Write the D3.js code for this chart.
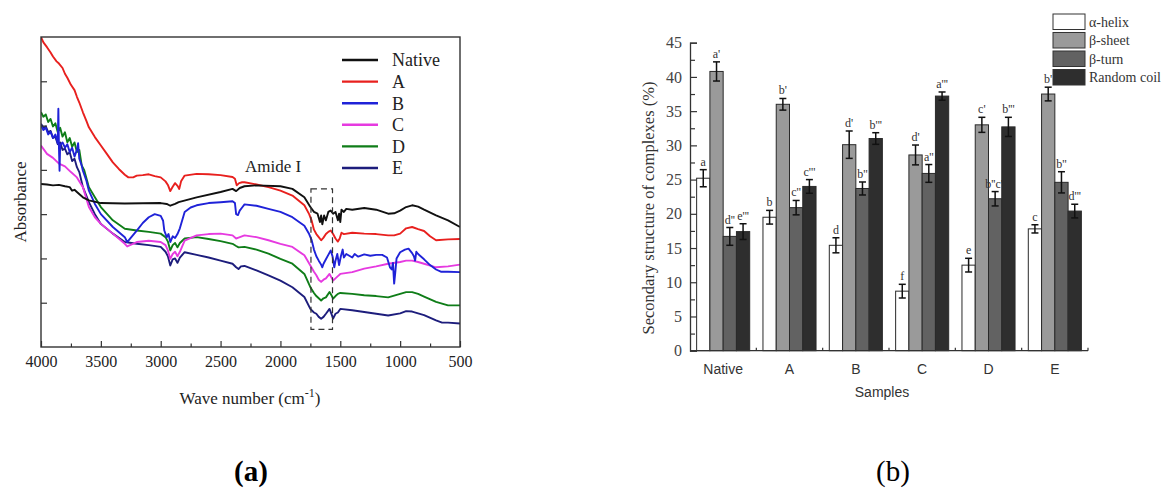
<!DOCTYPE html>
<html><head><meta charset="utf-8">
<script src="https://cdn.jsdelivr.net/npm/d3@7"></script>
<style>body{margin:0;background:#fff}svg{display:block}</style>
</head><body><svg id="c" width="1162" height="492"></svg>
<script>
// ---------- Panel (a) data: FTIR spectra [wave number, absorbance] ----------
const specNames = ["Native","A","B","C","D","E"];
const specColors = ["#111111","#e8201e","#1f22d8","#e63ae0","#0f7d18","#1d1d7c"];
const nativeSpec = [[4000,3.68],[3950,3.67],[3900,3.65],[3850,3.66],[3800,3.63],[3760,3.61],[3740,3.53],[3720,3.55],[3700,3.50],[3650,3.38],[3600,3.31],[3500,3.25],[3300,3.24],[3000,3.25],[2950,3.23],[2920,3.19],[2880,3.23],[2850,3.27],[2700,3.38],[2500,3.50],[2400,3.57],[2370,3.52],[2340,3.59],[2300,3.63],[2200,3.65],[2000,3.63],[1900,3.57],[1800,3.38],[1750,3.16],[1720,3.05],[1690,3.01],[1670,2.82],[1660,2.97],[1650,2.77],[1635,2.97],[1620,2.86],[1600,3.05],[1580,3.08],[1560,3.01],[1540,3.05],[1520,2.86],[1510,3.01],[1500,2.82],[1490,3.10],[1470,3.05],[1450,3.12],[1400,3.10],[1300,3.14],[1200,3.10],[1100,3.01],[1050,3.02],[1000,3.08],[950,3.16],[900,3.20],[850,3.17],[800,3.10],[700,2.97],[600,2.86],[500,2.71]];
const aSpec = [[4000,7.00],[3980,6.88],[3950,6.77],[3920,6.65],[3900,6.56],[3870,6.45],[3850,6.40],[3820,6.30],[3800,6.17],[3780,6.08],[3750,5.92],[3720,5.80],[3700,5.65],[3680,5.52],[3650,5.30],[3620,5.10],[3600,4.96],[3550,4.74],[3500,4.55],[3450,4.36],[3400,4.17],[3350,4.02],[3300,3.89],[3270,3.83],[3230,3.83],[3200,3.87],[3150,3.88],[3100,3.90],[3050,3.86],[3000,3.83],[2960,3.74],[2940,3.66],[2920,3.52],[2900,3.62],[2880,3.70],[2860,3.64],[2845,3.57],[2830,3.74],[2800,3.87],[2700,3.91],[2600,3.90],[2500,3.88],[2400,3.84],[2380,3.80],[2365,3.65],[2345,3.70],[2320,3.72],[2300,3.72],[2200,3.67],[2100,3.61],[2000,3.53],[1900,3.42],[1800,3.20],[1760,3.00],[1740,2.86],[1720,2.65],[1700,2.55],[1680,2.48],[1660,2.41],[1640,2.47],[1620,2.55],[1600,2.60],[1580,2.63],[1560,2.55],[1540,2.45],[1520,2.38],[1505,2.45],[1490,2.58],[1470,2.55],[1400,2.58],[1300,2.56],[1200,2.55],[1100,2.52],[1050,2.52],[1000,2.56],[950,2.68],[900,2.71],[850,2.66],[800,2.62],[750,2.50],[700,2.41],[600,2.43],[500,2.44]];
const bSpec = [[4000,5.00],[3980,4.90],[3960,4.95],[3940,4.80],[3920,4.86],[3900,4.72],[3880,4.80],[3860,4.60],[3855,5.38],[3850,4.50],[3845,3.98],[3840,4.55],[3820,4.62],[3800,4.50],[3780,4.58],[3760,4.40],[3740,4.50],[3720,4.30],[3700,4.45],[3690,4.60],[3680,4.25],[3660,4.10],[3650,3.98],[3620,3.75],[3600,3.53],[3550,3.23],[3500,3.00],[3400,2.71],[3300,2.48],[3280,2.37],[3240,2.50],[3200,2.63],[3150,2.80],[3100,2.93],[3050,3.00],[3000,2.96],[2980,2.85],[2970,2.63],[2950,2.48],[2935,2.55],[2920,2.37],[2900,2.50],[2880,2.46],[2860,2.55],[2840,2.68],[2800,3.05],[2750,3.15],[2700,3.20],[2600,3.25],[2500,3.27],[2400,3.29],[2380,3.25],[2370,3.00],[2355,2.98],[2340,3.08],[2320,3.15],[2300,3.22],[2200,3.19],[2100,3.12],[2000,3.05],[1900,2.93],[1800,2.74],[1760,2.55],[1740,2.42],[1720,2.20],[1700,2.05],[1680,1.95],[1660,1.86],[1650,1.80],[1640,1.88],[1620,1.98],[1600,2.08],[1580,2.18],[1565,2.05],[1550,1.80],[1540,1.95],[1525,2.10],[1510,1.85],[1495,2.05],[1480,2.20],[1470,2.02],[1450,2.10],[1400,2.02],[1380,2.10],[1350,2.04],[1300,2.09],[1250,2.06],[1200,2.08],[1150,2.08],[1110,2.02],[1085,1.80],[1070,1.75],[1060,1.90],[1050,1.43],[1040,1.70],[1030,2.00],[1000,2.14],[960,2.20],[930,2.22],[900,2.12],[885,2.05],[875,1.95],[865,2.15],[850,2.10],[800,1.98],[750,1.85],[700,1.75],[660,1.70],[600,1.70],[500,1.69]];
const cSpec = [[4000,4.55],[3950,4.36],[3900,4.27],[3850,4.14],[3800,4.08],[3750,3.95],[3700,3.83],[3650,3.61],[3600,3.16],[3550,2.93],[3500,2.78],[3400,2.56],[3300,2.33],[3280,2.27],[3200,2.37],[3100,2.40],[3000,2.37],[2960,2.30],[2940,2.18],[2920,1.99],[2900,2.10],[2880,2.15],[2860,2.05],[2840,2.15],[2800,2.40],[2700,2.52],[2600,2.55],[2500,2.56],[2400,2.52],[2370,2.45],[2350,2.47],[2300,2.52],[2200,2.48],[2100,2.41],[2000,2.33],[1900,2.26],[1800,2.07],[1750,1.84],[1720,1.70],[1700,1.62],[1680,1.52],[1660,1.47],[1640,1.52],[1620,1.55],[1590,1.65],[1570,1.55],[1560,1.50],[1540,1.55],[1520,1.60],[1500,1.65],[1400,1.69],[1300,1.77],[1200,1.82],[1100,1.88],[1000,1.92],[950,1.95],[900,1.95],[850,1.92],[800,1.88],[700,1.80],[600,1.82],[500,1.86]];
const dSpec = [[4000,5.30],[3980,5.20],[3960,5.25],[3940,5.08],[3920,5.15],[3900,4.98],[3880,5.05],[3860,4.85],[3840,4.95],[3820,4.75],[3800,4.85],[3780,4.62],[3760,4.72],[3740,4.52],[3720,4.62],[3700,4.40],[3680,4.45],[3660,4.10],[3640,4.00],[3600,3.61],[3550,3.38],[3500,3.16],[3400,2.86],[3300,2.67],[3200,2.63],[3100,2.60],[3000,2.56],[2960,2.48],[2940,2.38],[2920,2.18],[2900,2.30],[2880,2.35],[2860,2.25],[2840,2.35],[2800,2.45],[2700,2.48],[2600,2.44],[2500,2.39],[2400,2.33],[2370,2.28],[2350,2.25],[2300,2.26],[2200,2.20],[2100,2.11],[2000,1.99],[1900,1.88],[1800,1.65],[1750,1.35],[1720,1.22],[1700,1.15],[1680,1.10],[1660,1.05],[1640,1.10],[1620,1.12],[1590,1.24],[1570,1.15],[1560,1.09],[1540,1.15],[1520,1.20],[1500,1.22],[1400,1.20],[1300,1.17],[1200,1.15],[1100,1.12],[1000,1.20],[950,1.24],[900,1.24],[850,1.20],[800,1.14],[700,1.02],[600,0.94],[500,0.94]];
const eSpec = [[4000,5.04],[3980,4.95],[3960,4.98],[3940,4.85],[3920,4.88],[3900,4.72],[3880,4.75],[3860,4.58],[3840,4.62],[3820,4.45],[3800,4.48],[3780,4.35],[3760,4.40],[3740,4.20],[3720,4.25],[3700,4.06],[3680,3.95],[3650,3.61],[3600,3.27],[3550,3.00],[3500,2.78],[3400,2.56],[3300,2.37],[3200,2.33],[3100,2.30],[3000,2.26],[2960,2.15],[2940,2.05],[2920,1.84],[2900,1.98],[2880,2.00],[2860,1.90],[2840,2.02],[2800,2.14],[2700,2.08],[2600,2.02],[2500,1.95],[2400,1.88],[2370,1.80],[2350,1.76],[2330,1.82],[2300,1.83],[2200,1.73],[2100,1.62],[2000,1.50],[1900,1.35],[1800,1.13],[1750,0.86],[1720,0.78],[1700,0.75],[1680,0.68],[1660,0.64],[1640,0.68],[1620,0.75],[1590,0.86],[1570,0.72],[1560,0.64],[1540,0.75],[1520,0.78],[1500,0.86],[1400,0.83],[1300,0.79],[1200,0.75],[1100,0.71],[1000,0.76],[950,0.81],[900,0.80],[800,0.72],[700,0.60],[650,0.55],[600,0.55],[500,0.53]];
const spectra = [nativeSpec,aSpec,bSpec,cSpec,dSpec,eSpec];
const waveTicks = [4000,3500,3000,2500,2000,1500,1000,500];
const waveMinorTicks = [3750,3250,2750,2250,1750,1250,750];
const amideBox = [1745,1565,0.4,3.57];

// ---------- Panel (b) data ----------
const samples = ["Native","A","B","C","D","E"];
const structures = ["α-helix","β-sheet","β-turn","Random coil"];
const structColors = ["#ffffff","#9a9a9a","#626262","#2e2e2e"];
const alphaHelix  = [25.2,19.5,15.4,8.7,12.5,17.8];
const betaSheet   = [40.8,36.0,30.1,28.6,33.0,37.5];
const betaTurn    = [16.7,20.9,23.7,25.9,22.2,24.6];
const randomCoil  = [17.4,24.0,31.0,37.2,32.7,20.4];
const alphaErr    = [1.25,1.0,1.1,1.0,1.0,0.6];
const sheetErr    = [1.4,0.85,2.0,1.45,1.1,1.0];
const turnErr     = [1.3,1.05,0.95,1.3,1.05,1.55];
const coilErr     = [1.15,1.0,0.85,0.6,1.4,1.0];
const alphaLetters = ["a","b","d","f","e","c"];
const sheetLetters = ["a'","b'","d'","d'","c'","b'"];
const turnLetters  = ["d''","c''","b''","a''","b''c''","b''"];
const coilLetters  = ["e'''","c'''","b'''","a'''","b'''","d'''"];
const percentTicks = [0,5,10,15,20,25,30,35,40,45];

const svg = d3.select("#c");
const serif = "'Liberation Serif','Times New Roman',serif";
const sans = "'Liberation Sans',Arial,sans-serif";

// =================== Panel (a) ===================
const ga = svg.append("g");
const xa = d3.scaleLinear().domain([4000,500]).range([41,460]);
const ya = d3.scaleLinear().domain([0,7]).range([347,37]);

const line = d3.line().x(d=>xa(d[0])).y(d=>ya(d[1]));
ga.append("clipPath").attr("id","clipA").append("rect")
  .attr("x",xa(4000)).attr("y",ya(7)).attr("width",xa(500)-xa(4000)).attr("height",ya(0)-ya(7));
const linesG = ga.append("g").attr("clip-path","url(#clipA)");
[5,4,3,2,1,0].forEach(i=>{
  linesG.append("path").datum(spectra[i]).attr("d",line)
    .attr("fill","none").attr("stroke",specColors[i]).attr("stroke-width",1.9)
    .attr("stroke-linejoin","round");
});

// dashed Amide I box
ga.append("rect").attr("x",xa(amideBox[0])).attr("y",ya(amideBox[3]))
  .attr("width",xa(amideBox[1])-xa(amideBox[0])).attr("height",ya(amideBox[2])-ya(amideBox[3]))
  .attr("fill","none").attr("stroke","#333").attr("stroke-width",1.2).attr("stroke-dasharray","6,4");
ga.append("text").attr("x",xa(2062)).attr("y",172).attr("text-anchor","middle")
  .attr("font-family",serif).attr("font-size",17).attr("fill","#222").text("Amide I");

// axes
const xAxA = d3.axisBottom(xa).tickValues(waveTicks).tickFormat(d3.format("d")).tickSize(-6).tickPadding(9);
const gx = ga.append("g").attr("transform",`translate(0,${ya(0)})`).call(xAxA);
gx.select(".domain").remove();
gx.selectAll("line").attr("stroke","#333").attr("stroke-width",1.2);
gx.selectAll("text").attr("font-family",serif).attr("font-size",16).attr("fill","#222");
const gxm = ga.append("g").attr("transform",`translate(0,${ya(0)})`)
  .call(d3.axisBottom(xa).tickValues(waveMinorTicks).tickFormat("").tickSize(-3.5));
gxm.select(".domain").remove();
gxm.selectAll("line").attr("stroke","#333").attr("stroke-width",1.2);
const gy = ga.append("g").attr("transform",`translate(${xa(4000)},0)`)
  .call(d3.axisLeft(ya).tickValues([1,2,3,4,5,6]).tickFormat("").tickSize(-6));
gy.select(".domain").remove();
gy.selectAll("line").attr("stroke","#333").attr("stroke-width",1.2);
ga.append("rect").attr("x",xa(4000)).attr("y",ya(7)).attr("width",xa(500)-xa(4000)).attr("height",ya(0)-ya(7))
  .attr("fill","none").attr("stroke","#333").attr("stroke-width",1.4);

// legend (a)
specNames.forEach((n,i)=>{
  const yy = 60 + i*21.6;
  ga.append("line").attr("x1",342).attr("x2",378).attr("y1",yy).attr("y2",yy)
    .attr("stroke",specColors[i]).attr("stroke-width",2.4);
  ga.append("text").attr("x",392).attr("y",yy).attr("dy","0.35em")
    .attr("font-family",serif).attr("font-size",18).attr("fill","#222").text(n);
});

// axis titles (a)
ga.append("text").attr("transform","translate(26,202) rotate(-90)").attr("text-anchor","middle")
  .attr("font-family",serif).attr("font-size",17).attr("fill","#222").text("Absorbance");
const xt = ga.append("text").attr("x",250).attr("y",404).attr("text-anchor","middle")
  .attr("font-family",serif).attr("font-size",17).attr("fill","#222");
xt.append("tspan").text("Wave number (cm");
xt.append("tspan").attr("dy",-7).attr("font-size",12).text("-1");
xt.append("tspan").attr("dy",7).text(")");

svg.append("text").attr("x",251).attr("y",481).attr("text-anchor","middle")
  .attr("font-family",serif).attr("font-size",29).attr("font-weight","bold").attr("fill","#000").text("(a)");
svg.append("text").attr("x",893).attr("y",481).attr("text-anchor","middle")
  .attr("font-family",serif).attr("font-size",29).attr("fill","#000").text("(b)");

// =================== Panel (b) ===================
const gb = svg.append("g");
const yb = d3.scaleLinear().domain([0,45]).range([350.7,42.7]);
const x0 = d3.scaleBand().domain(samples).range([690,1088]).paddingInner(0.2).paddingOuter(0.1);
const x1 = d3.scaleBand().domain(structures).range([0,x0.bandwidth()]);
const vals = [alphaHelix,betaSheet,betaTurn,randomCoil];
const errs = [alphaErr,sheetErr,turnErr,coilErr];
const letters = [alphaLetters,sheetLetters,turnLetters,coilLetters];

samples.forEach((s,i)=>{
  structures.forEach((st,j)=>{
    const v = vals[j][i], e = errs[j][i];
    const bx = x0(s)+x1(st), bw = x1.bandwidth(), cx = bx+bw/2;
    gb.append("rect").attr("x",bx).attr("y",yb(v)).attr("width",bw).attr("height",yb(0)-yb(v))
      .attr("fill",structColors[j]).attr("stroke","#2a2a2a").attr("stroke-width",1);
    const eg = gb.append("g").attr("stroke","#111").attr("stroke-width",1.5);
    eg.append("line").attr("x1",cx).attr("x2",cx).attr("y1",yb(v+e)).attr("y2",yb(v-e));
    eg.append("line").attr("x1",cx-3.5).attr("x2",cx+3.5).attr("y1",yb(v+e)).attr("y2",yb(v+e));
    eg.append("line").attr("x1",cx-3.5).attr("x2",cx+3.5).attr("y1",yb(v-e)).attr("y2",yb(v-e));
    gb.append("text").attr("x",cx).attr("y",yb(v+e)-4).attr("text-anchor","middle")
      .attr("font-family",serif).attr("font-size",12).attr("fill","#333").text(letters[j][i]);
  });
});

// y axis (b)
const gyb = gb.append("g").attr("transform","translate(690,0)")
  .call(d3.axisLeft(yb).tickValues(percentTicks).tickSize(-7).tickPadding(8));
gyb.select(".domain").attr("stroke","#333").attr("stroke-width",1.3);
gyb.selectAll("line").attr("stroke","#333").attr("stroke-width",1.2);
gyb.selectAll("text").attr("font-family",serif).attr("font-size",16).attr("fill","#444");
const gybm = gb.append("g").attr("transform","translate(690,0)")
  .call(d3.axisLeft(yb).tickValues(percentTicks.slice(0,-1).map(t=>t+2.5)).tickFormat("").tickSize(-5));
gybm.select(".domain").remove();
gybm.selectAll("line").attr("stroke","#333").attr("stroke-width",1.2);

// x axis (b)
const gxb = gb.append("g").attr("transform",`translate(0,${yb(0)})`)
  .call(d3.axisBottom(x0).tickSize(0).tickPadding(13));
gxb.select(".domain").attr("d",`M690,0H1088`).attr("stroke","#333").attr("stroke-width",1.3);
gxb.selectAll("text").attr("font-family",sans).attr("font-size",14).attr("fill","#333");
samples.slice(1).forEach(s=>{
  const bx = x0(s) - x0.step()*x0.paddingInner()/2;
  gb.append("line").attr("x1",bx).attr("x2",bx).attr("y1",yb(0)).attr("y2",yb(0)-3)
    .attr("stroke","#333").attr("stroke-width",1.2);
});
gb.append("line").attr("x1",1088).attr("x2",1088).attr("y1",yb(0)).attr("y2",yb(0)-3)
  .attr("stroke","#333").attr("stroke-width",1.2);

gb.append("text").attr("x",882).attr("y",397).attr("text-anchor","middle")
  .attr("font-family",sans).attr("font-size",14).attr("fill","#333").text("Samples");
gb.append("text").attr("transform","translate(654,208) rotate(-90)").attr("text-anchor","middle")
  .attr("font-family",serif).attr("font-size",16.5).attr("fill","#333").text("Secondary structure of complexes (%)");

// legend (b)
structures.forEach((st,j)=>{
  const yy = 14 + j*18.5;
  gb.append("rect").attr("x",1053).attr("y",yy).attr("width",32).attr("height",15.5)
    .attr("fill",structColors[j]).attr("stroke","#333").attr("stroke-width",1);
  gb.append("text").attr("x",1089).attr("y",yy+8).attr("dy","0.35em")
    .attr("font-family",serif).attr("font-size",14).attr("fill","#333").text(st);
});
</script></body></html>
